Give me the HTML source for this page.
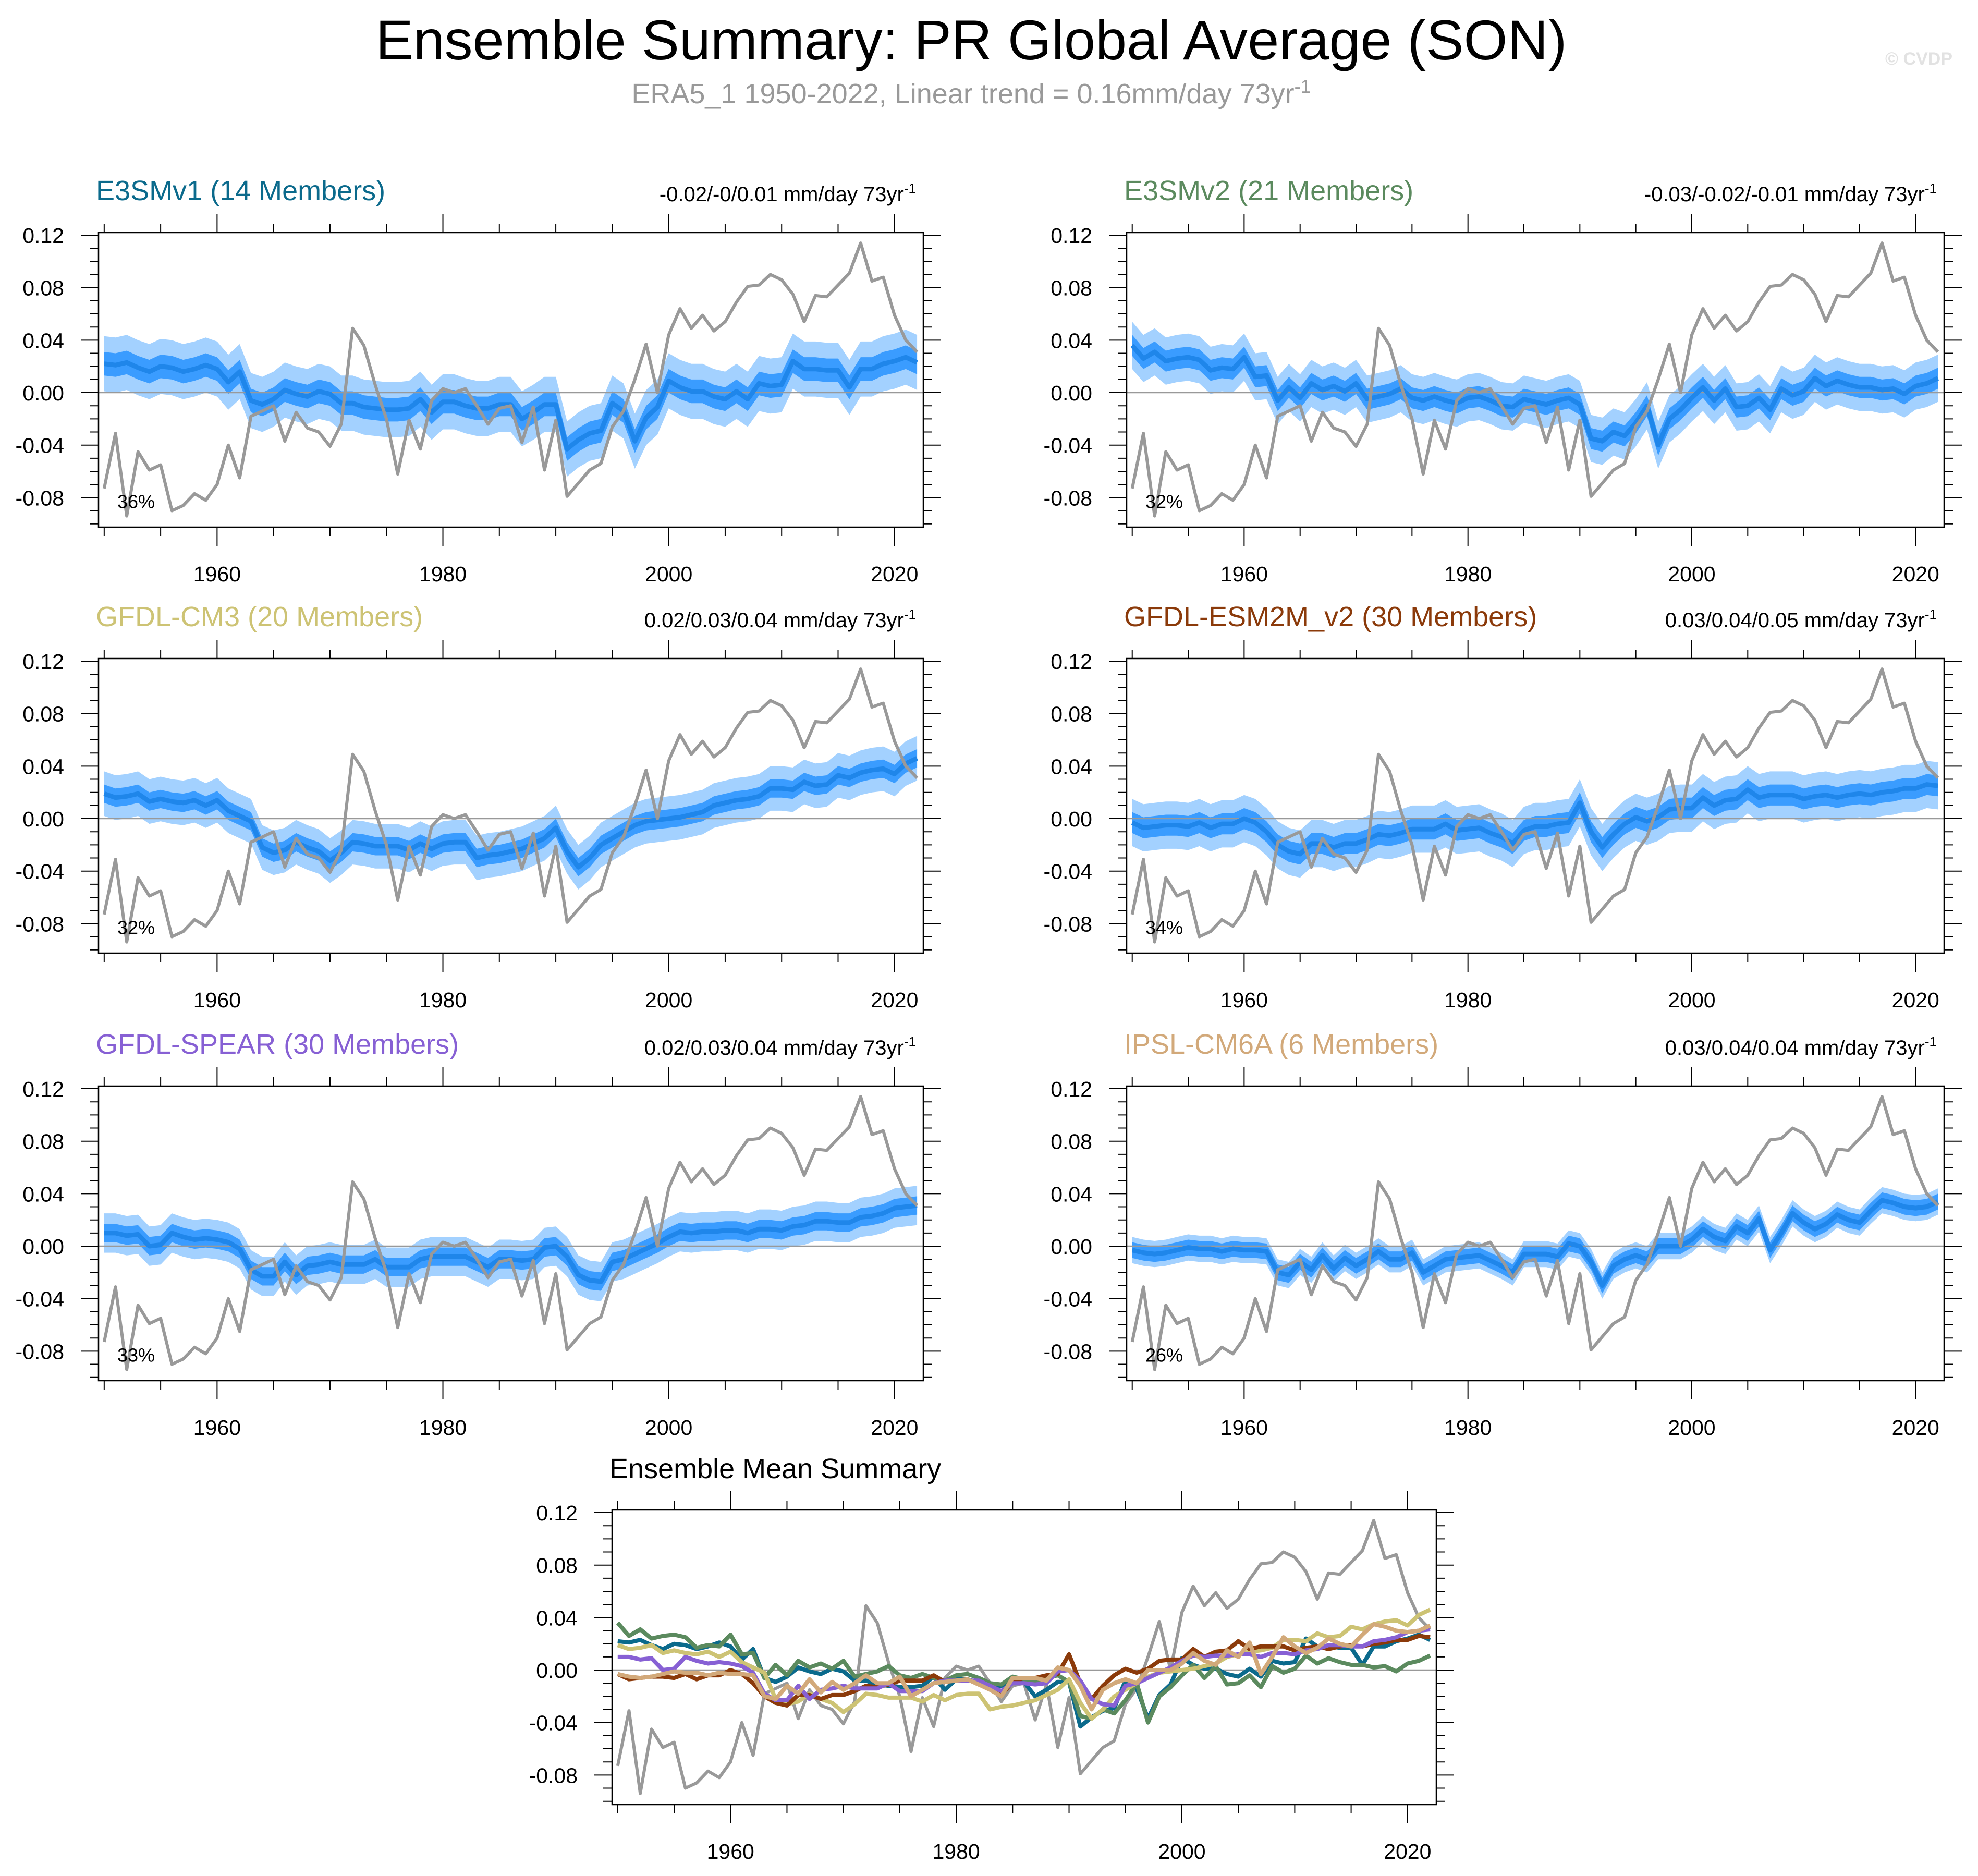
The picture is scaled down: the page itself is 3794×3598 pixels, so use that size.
<!DOCTYPE html>
<html><head><meta charset="utf-8">
<style>
html,body{margin:0;padding:0;background:#fff;}
svg{display:block;font-family:"Liberation Sans",sans-serif;}
</style></head>
<body>
<svg id="chart" width="3794" height="3598" viewBox="0 0 3794 3598" xmlns="http://www.w3.org/2000/svg">
<rect width="3794" height="3598" fill="#fff"/>
<text x="1863" y="114" font-size="108" text-anchor="middle" fill="#000">Ensemble Summary: PR Global Average (SON)</text>
<text x="1863" y="198" font-size="54" text-anchor="middle" fill="#999">ERA5_1 1950-2022, Linear trend = 0.16mm/day 73yr<tspan dy="-20" font-size="36">-1</tspan></text>
<text x="3745" y="124" font-size="34" text-anchor="end" fill="#e2e2e2" font-weight="bold">© CVDP</text>
<g id="panels"></g>
</svg>
<script>
const years = []; for (let y = 1950; y <= 2022; y++) years.push(y);
const yTicks = [0.12, 0.08, 0.04, 0.00, -0.04, -0.08];
const yTickLabels = ["0.12", "0.08", "0.04", "0.00", "-0.04", "-0.08"];
const xTicks = [1960, 1980, 2000, 2020];
const era5 = [-0.073,-0.031,-0.094,-0.045,-0.059,-0.055,-0.090,-0.086,-0.077,-0.082,-0.070,-0.040,-0.065,-0.018,-0.014,-0.010,-0.037,-0.015,-0.027,-0.030,-0.041,-0.024,0.049,0.036,0.006,-0.020,-0.062,-0.021,-0.043,-0.006,0.003,0.000,0.003,-0.010,-0.024,-0.012,-0.010,-0.038,-0.011,-0.059,-0.021,-0.079,-0.069,-0.059,-0.054,-0.026,-0.014,0.010,0.037,0.000,0.044,0.064,0.049,0.059,0.047,0.054,0.069,0.081,0.082,0.090,0.086,0.075,0.054,0.074,0.073,0.082,0.091,0.114,0.085,0.088,0.059,0.040,0.031];
const e3smv1 = [0.022,0.021,0.023,0.019,0.016,0.020,0.019,0.016,0.018,0.021,0.018,0.008,0.016,-0.006,-0.009,-0.005,0.002,-0.001,-0.003,0.001,-0.001,-0.008,-0.008,-0.011,-0.012,-0.013,-0.013,-0.012,-0.005,-0.015,-0.007,-0.007,-0.010,-0.012,-0.012,-0.009,-0.009,-0.020,-0.015,-0.009,-0.009,-0.043,-0.036,-0.031,-0.029,-0.008,-0.014,-0.037,-0.019,-0.011,0.009,0.004,0.001,0.001,-0.003,-0.005,0.001,-0.005,0.007,0.005,0.006,0.024,0.018,0.018,0.017,0.017,0.004,0.018,0.018,0.022,0.024,0.027,0.023];
const e3smv2 = [0.036,0.026,0.031,0.024,0.026,0.027,0.025,0.017,0.019,0.018,0.027,0.012,0.013,-0.006,0.004,-0.004,0.007,0.002,0.005,0.001,0.007,-0.005,-0.003,-0.001,0.003,-0.004,-0.006,-0.003,-0.006,-0.008,-0.004,-0.003,-0.006,-0.010,-0.011,-0.005,-0.007,-0.009,-0.006,-0.004,-0.009,-0.035,-0.037,-0.030,-0.033,-0.023,-0.010,-0.040,-0.020,-0.013,-0.004,0.004,-0.006,0.003,-0.011,-0.010,-0.004,-0.013,0.003,-0.002,0.001,0.011,0.005,0.009,0.006,0.004,0.004,0.002,0.003,-0.001,0.005,0.007,0.011];
const gfdlCm3 = [0.019,0.016,0.017,0.019,0.013,0.015,0.013,0.012,0.014,0.010,0.014,0.006,0.002,-0.002,-0.022,-0.026,-0.024,-0.018,-0.022,-0.025,-0.032,-0.026,-0.018,-0.019,-0.021,-0.021,-0.021,-0.024,-0.019,-0.023,-0.019,-0.018,-0.018,-0.030,-0.028,-0.027,-0.025,-0.023,-0.019,-0.015,-0.007,-0.025,-0.037,-0.030,-0.020,-0.015,-0.010,-0.005,-0.002,-0.001,0.000,0.001,0.003,0.005,0.010,0.012,0.014,0.015,0.017,0.023,0.023,0.022,0.028,0.025,0.026,0.033,0.031,0.035,0.037,0.038,0.034,0.042,0.046];
const gfdlEsm2m = [-0.003,-0.007,-0.006,-0.005,-0.005,-0.006,-0.003,-0.007,-0.004,-0.004,0.000,-0.003,-0.010,-0.020,-0.025,-0.027,-0.019,-0.019,-0.022,-0.019,-0.019,-0.016,-0.012,-0.013,-0.011,-0.008,-0.008,-0.008,-0.004,-0.009,-0.008,-0.007,-0.011,-0.014,-0.019,-0.009,-0.006,-0.006,-0.004,-0.003,0.012,-0.010,-0.022,-0.012,-0.004,0.001,-0.002,0.001,0.007,0.008,0.008,0.016,0.010,0.014,0.015,0.022,0.016,0.018,0.018,0.018,0.015,0.017,0.018,0.016,0.018,0.019,0.018,0.020,0.021,0.023,0.023,0.026,0.025];
const gfdlSpear = [0.010,0.010,0.008,0.009,0.000,0.001,0.010,0.007,0.005,0.006,0.005,0.003,-0.002,-0.018,-0.023,-0.023,-0.012,-0.022,-0.015,-0.014,-0.012,-0.014,-0.014,-0.014,-0.010,-0.016,-0.016,-0.016,-0.010,-0.008,-0.008,-0.008,-0.008,-0.012,-0.016,-0.010,-0.010,-0.011,-0.010,-0.001,0.000,-0.008,-0.022,-0.026,-0.027,-0.012,-0.010,-0.006,-0.002,0.002,0.007,0.011,0.010,0.011,0.011,0.012,0.012,0.010,0.013,0.013,0.012,0.015,0.016,0.019,0.019,0.018,0.018,0.022,0.023,0.025,0.029,0.030,0.031];
const ipsl = [-0.003,-0.005,-0.006,-0.005,-0.003,-0.001,-0.002,-0.002,-0.004,-0.002,-0.003,-0.003,-0.004,-0.020,-0.022,-0.012,-0.018,-0.007,-0.017,-0.009,-0.015,-0.010,-0.004,-0.010,-0.010,-0.005,-0.020,-0.015,-0.010,-0.009,-0.008,-0.007,-0.011,-0.015,-0.020,-0.006,-0.006,-0.006,-0.008,0.002,0.000,-0.012,-0.030,-0.015,-0.010,-0.007,-0.010,0.000,0.000,0.000,0.005,0.013,0.007,0.004,0.015,0.010,0.021,-0.003,0.010,0.025,0.018,0.013,0.017,0.024,0.020,0.018,0.027,0.035,0.033,0.030,0.029,0.030,0.034];
const modelNames = ["E3SMv1 (14 Members)","E3SMv2 (21 Members)","GFDL-CM3 (20 Members)","GFDL-ESM2M_v2 (30 Members)","GFDL-SPEAR (30 Members)","IPSL-CM6A (6 Members)"];
const modelTrends = ["-0.02/-0/0.01","-0.03/-0.02/-0.01","0.02/0.03/0.04","0.03/0.04/0.05","0.02/0.03/0.04","0.03/0.04/0.04"];
const modelPct = ["36%","32%","32%","34%","33%","26%"];
const innerHalf = [0.009,0.008,0.007,0.008,0.007,0.006];
const outerHalf = [0.021,0.018,0.017,0.018,0.015,0.010];
const modelColors = ["#0b6a8c","#5b8a5e","#cdc374","#8b3a0a","#8760d4","#d2a97a"];
const modelSeries = [e3smv1,e3smv2,gfdlCm3,gfdlEsm2m,gfdlSpear,ipsl];

const NS = "http://www.w3.org/2000/svg";
const root = document.getElementById('panels');
function mk(tag, attrs, parent) {
  const e = document.createElementNS(NS, tag);
  for (const k in attrs) e.setAttribute(k, attrs[k]);
  (parent || root).appendChild(e);
  return e;
}
const X0 = 1949.5, X1 = 2022.55, Y0 = -0.1025, Y1 = 0.122;
function makeAxes(L, R, T, B) {
  return {
    x: v => L + (v - X0) / (X1 - X0) * (R - L),
    y: v => B - (v - Y0) / (Y1 - Y0) * (B - T)
  };
}
function pathOf(vals, ax) {
  return vals.map((v, i) => (i ? 'L' : 'M') + ax.x(years[i]).toFixed(1) + ',' + ax.y(v).toFixed(1)).join('');
}
function bandOf(vals, half, ax) {
  let d = vals.map((v, i) => (i ? 'L' : 'M') + ax.x(years[i]).toFixed(1) + ',' + ax.y(v + half).toFixed(1)).join('');
  for (let i = vals.length - 1; i >= 0; i--) d += 'L' + ax.x(years[i]).toFixed(1) + ',' + ax.y(vals[i] - half).toFixed(1);
  return d + 'Z';
}
function drawFrame(g, L, R, T, B, ax) {
  for (let k = -10; k <= 12; k++) {
    const v = k / 100, yy = ax.y(v);
    const major = (k % 4 === 0);
    const len = major ? 34 : 17;
    const t1 = mk('line', {x1: L, x2: L - len, y1: yy, y2: yy, stroke: '#000', 'stroke-width': 2}, g);
    
    
    const t2 = mk('line', {x1: R, x2: R + len, y1: yy, y2: yy, stroke: '#000', 'stroke-width': 2}, g);
    
    
  }
  yTicks.forEach((v, i) => {
    const t = mk('text', {x: L - 66, y: ax.y(v) + 15, 'font-size': 41, 'text-anchor': 'end', fill: '#000'}, g);
    
    
    t.textContent = yTickLabels[i];
  });
  for (let yr = 1950; yr <= 2020; yr += 5) {
    const xx = ax.x(yr), major = (yr % 20 === 0);
    const len = major ? 36 : 17;
    const t1 = mk('line', {x1: xx, x2: xx, y1: B, y2: B + len, stroke: '#000', 'stroke-width': 2}, g);
    
    
    const t2 = mk('line', {x1: xx, x2: xx, y1: T, y2: T - len, stroke: '#000', 'stroke-width': 2}, g);
    
    
  }
  xTicks.forEach(v => {
    const t = mk('text', {x: ax.x(v), y: B + 104, 'font-size': 41, 'text-anchor': 'middle', fill: '#000'}, g);
    
    
    t.textContent = String(v);
  });
}
function zeroLine(g, ax, L, R) {
  const z = mk('line', {x1: L, x2: R, y1: ax.y(0), y2: ax.y(0), stroke: '#999', 'stroke-width': 2.5}, g);
  
  
}

const cols = [[189, 1771], [2161, 3729]];
const rows = [[446, 1011], [1263, 1828], [2083, 2648]];
modelSeries.forEach((vals, m) => {
  const [L, R] = cols[m % 2], [T, B] = rows[Math.floor(m / 2)];
  const ax = makeAxes(L, R, T, B);
  const g = mk('g', {});
  
  
  const title = mk('text', {x: L - 5, y: T - 62, 'font-size': 54, fill: modelColors[m]}, g);
  
  
  title.textContent = modelNames[m];
  const tr = mk('text', {x: R - 14, y: T - 60, 'font-size': 40, 'text-anchor': 'end', fill: '#000'}, g);
  
  
  tr.textContent = modelTrends[m] + ' mm/day 73yr';
  const sup = mk('tspan', {dy: -16, 'font-size': 26}, tr);
  sup.textContent = '-1';
  const ob = mk('path', {d: bandOf(vals, outerHalf[m], ax), fill: '#a3d1ff'}, g);
  
  
  const ib = mk('path', {d: bandOf(vals, innerHalf[m], ax), fill: '#3a9cff'}, g);
  
  
  zeroLine(g, ax, L, R);
  const ml = mk('path', {d: pathOf(vals, ax), fill: 'none', stroke: '#1f86ea', 'stroke-width': 9, 'stroke-linejoin': 'round'}, g);
  
  
  const el = mk('path', {d: pathOf(era5, ax), fill: 'none', stroke: '#999', 'stroke-width': 6, 'stroke-linejoin': 'round'}, g);
  
  
  const fr = mk('rect', {x: L, y: T, width: R - L, height: B - T, fill: 'none', stroke: '#000', 'stroke-width': 2.5}, g);
  
  
  drawFrame(g, L, R, T, B, ax);
  const pc = mk('text', {x: L + 36, y: ax.y(-0.08) + 20, 'font-size': 36, fill: '#000'}, g);
  
  
  pc.textContent = modelPct[m];
});

(function () {
  const L = 1174, R = 2755, T = 2896, B = 3461;
  const ax = makeAxes(L, R, T, B);
  const g = mk('g', {});
  
  
  const title = mk('text', {x: 1169, y: 2835, 'font-size': 54, fill: '#000'}, g);
  
  
  title.textContent = 'Ensemble Mean Summary';
  zeroLine(g, ax, L, R);
  const el = mk('path', {d: pathOf(era5, ax), fill: 'none', stroke: '#999', 'stroke-width': 6, 'stroke-linejoin': 'round'}, g);
  
  
  modelSeries.forEach((vals, m) => {
    const p = mk('path', {d: pathOf(vals, ax), fill: 'none', stroke: modelColors[m], 'stroke-width': 8, 'stroke-linejoin': 'round'}, g);
    
    
  });
  const fr = mk('rect', {x: L, y: T, width: R - L, height: B - T, fill: 'none', stroke: '#000', 'stroke-width': 2.5}, g);
  
  
  drawFrame(g, L, R, T, B, ax);
})();
</script>
</body></html>
